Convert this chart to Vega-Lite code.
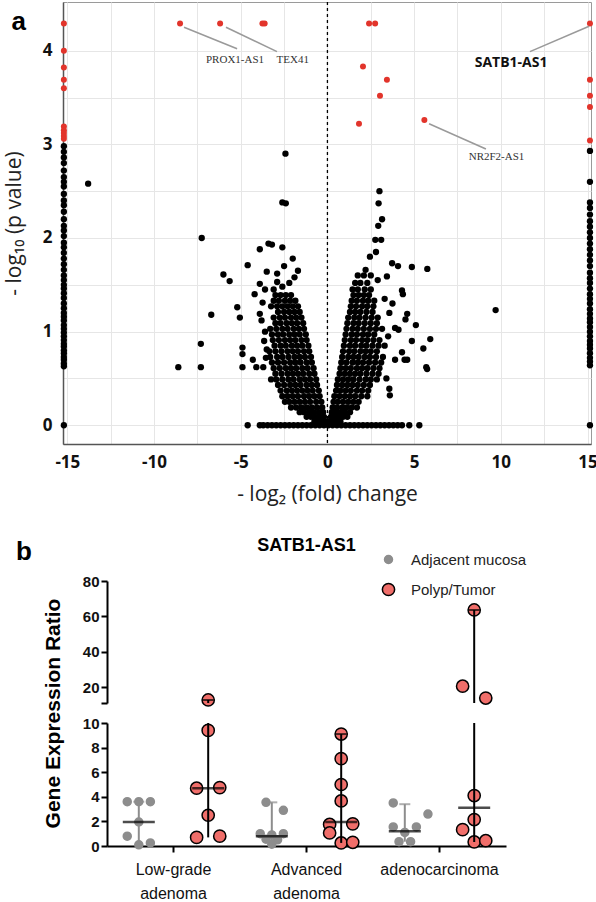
{
 "$schema": "https://vega.github.io/schema/vega-lite/v6.json",
 "background": "white",
 "padding": {"left": 2, "top": 0, "right": 0, "bottom": 0},
 "bounds": "flush",
 "spacing": 20,
 "resolve": {"scale": {"x": "independent", "y": "independent", "color": "independent", "stroke": "independent", "size": "independent", "xOffset": "independent"}},
 "config": {"view": {"stroke": null}, "font": "Liberation Sans", "axis": {"labelOverlap": false}},
 "datasets": {
  "black": [
   {"x":-15.2,"y":0},{"x":-4.6,"y":0},{"x":-3.9,"y":0},{"x":-3.7,"y":0},{"x":-3.45,"y":0},{"x":-3.2,"y":0},{"x":-2.95,"y":0},{"x":-2.7,"y":0},{"x":-2.45,"y":0},{"x":-2.2,"y":0},{"x":-1.95,"y":0},{"x":-1.7,"y":0},{"x":-1.45,"y":0},{"x":-1.2,"y":0},{"x":-0.95,"y":0},{"x":-0.7,"y":0},{"x":-0.45,"y":0},{"x":-0.2,"y":0},{"x":0.05,"y":0},{"x":0.3,"y":0},{"x":0.55,"y":0},{"x":0.8,"y":0},{"x":1.05,"y":0},{"x":1.3,"y":0},{"x":1.55,"y":0},{"x":1.8,"y":0},{"x":2.05,"y":0},{"x":2.3,"y":0},{"x":2.55,"y":0},{"x":2.8,"y":0},{"x":3.05,"y":0},{"x":3.3,"y":0},{"x":3.55,"y":0},{"x":3.8,"y":0},{"x":4.05,"y":0},{"x":4.3,"y":0},{"x":4.72,"y":0},{"x":5.3,"y":0},{"x":15.14,"y":0},
   {"x":-15.2,"y":0.63},{"x":-15.2,"y":0.66},{"x":-15.2,"y":0.7},{"x":-15.2,"y":0.73},{"x":-15.2,"y":0.77},{"x":-15.2,"y":0.8},{"x":-15.2,"y":0.84},{"x":-15.2,"y":0.87},{"x":-15.2,"y":0.91},{"x":-15.2,"y":0.95},{"x":-15.2,"y":0.99},{"x":-15.2,"y":1.03},{"x":-15.2,"y":1.07},{"x":-15.2,"y":1.12},{"x":-15.2,"y":1.16},{"x":-15.2,"y":1.2},{"x":-15.2,"y":1.25},{"x":-15.2,"y":1.3},{"x":-15.2,"y":1.36},{"x":-15.2,"y":1.41},{"x":-15.2,"y":1.46},{"x":-15.2,"y":1.5},{"x":-15.2,"y":1.55},{"x":-15.2,"y":1.6},{"x":-15.2,"y":1.66},{"x":-15.2,"y":1.72},{"x":-15.2,"y":1.78},{"x":-15.2,"y":1.84},{"x":-15.2,"y":1.9},{"x":-15.2,"y":1.95},{"x":-15.2,"y":2.02},{"x":-15.2,"y":2.08},{"x":-15.2,"y":2.13},{"x":-15.2,"y":2.2},{"x":-15.2,"y":2.28},{"x":-15.2,"y":2.35},{"x":-15.2,"y":2.4},{"x":-15.2,"y":2.47},{"x":-15.2,"y":2.55},{"x":-15.2,"y":2.6},{"x":-15.2,"y":2.65},{"x":-15.2,"y":2.72},{"x":-15.2,"y":2.8},{"x":-15.2,"y":2.86},{"x":-15.2,"y":2.92},{"x":-15.2,"y":2.98},
   {"x":15.14,"y":0.64},{"x":15.14,"y":0.68},{"x":15.14,"y":0.72},{"x":15.14,"y":0.77},{"x":15.14,"y":0.82},{"x":15.14,"y":0.86},{"x":15.14,"y":0.9},{"x":15.14,"y":0.95},{"x":15.14,"y":1.0},{"x":15.14,"y":1.05},{"x":15.14,"y":1.1},{"x":15.14,"y":1.14},{"x":15.14,"y":1.19},{"x":15.14,"y":1.24},{"x":15.14,"y":1.3},{"x":15.14,"y":1.35},{"x":15.14,"y":1.4},{"x":15.14,"y":1.46},{"x":15.14,"y":1.52},{"x":15.14,"y":1.57},{"x":15.14,"y":1.63},{"x":15.14,"y":1.7},{"x":15.14,"y":1.76},{"x":15.14,"y":1.82},{"x":15.14,"y":1.88},{"x":15.14,"y":1.94},{"x":15.14,"y":2.0},{"x":15.14,"y":2.06},{"x":15.14,"y":2.12},{"x":15.14,"y":2.18},{"x":15.14,"y":2.25},{"x":15.14,"y":2.32},{"x":15.14,"y":2.38},{"x":15.14,"y":2.6},{"x":15.14,"y":2.93},
   {"x":-0.1,"y":0.04},{"x":-0.3,"y":0.04},{"x":-0.5,"y":0.04},{"x":-0.75,"y":0.04},
   {"x":-0.2,"y":0.09},{"x":-0.45,"y":0.09},{"x":-0.7,"y":0.09},{"x":-0.95,"y":0.09},{"x":-1.2,"y":0.09},
   {"x":-0.25,"y":0.14},{"x":-0.5,"y":0.14},{"x":-0.8,"y":0.14},{"x":-1.05,"y":0.14},{"x":-1.35,"y":0.14},{"x":-1.6,"y":0.14},
   {"x":-0.3,"y":0.19},{"x":-0.6,"y":0.19},{"x":-0.9,"y":0.19},{"x":-1.2,"y":0.19},{"x":-1.5,"y":0.19},{"x":-1.8,"y":0.19},{"x":-2.1,"y":0.19},
   {"x":-0.35,"y":0.25},{"x":-0.65,"y":0.25},{"x":-1.0,"y":0.25},{"x":-1.3,"y":0.25},{"x":-1.6,"y":0.25},{"x":-1.9,"y":0.25},{"x":-2.2,"y":0.25},{"x":-2.45,"y":0.25},
   {"x":-0.45,"y":0.31},{"x":-0.75,"y":0.31},{"x":-1.05,"y":0.31},{"x":-1.35,"y":0.31},{"x":-1.7,"y":0.31},{"x":-2.0,"y":0.31},{"x":-2.3,"y":0.31},{"x":-2.6,"y":0.31},
   {"x":-0.5,"y":0.37},{"x":-0.85,"y":0.37},{"x":-1.15,"y":0.37},{"x":-1.45,"y":0.37},{"x":-1.75,"y":0.37},{"x":-2.05,"y":0.37},{"x":-2.35,"y":0.37},{"x":-2.7,"y":0.37},
   {"x":-0.6,"y":0.43},{"x":-0.9,"y":0.43},{"x":-1.2,"y":0.43},{"x":-1.55,"y":0.43},{"x":-1.85,"y":0.43},{"x":-2.15,"y":0.43},{"x":-2.5,"y":0.43},{"x":-2.85,"y":0.43},
   {"x":-0.65,"y":0.49},{"x":-1.0,"y":0.49},{"x":-1.3,"y":0.49},{"x":-1.6,"y":0.49},{"x":-1.95,"y":0.49},{"x":-2.25,"y":0.49},{"x":-2.6,"y":0.49},{"x":-2.95,"y":0.49},
   {"x":-0.75,"y":0.55},{"x":-1.05,"y":0.55},{"x":-1.4,"y":0.55},{"x":-1.7,"y":0.55},{"x":-2.0,"y":0.55},{"x":-2.3,"y":0.55},{"x":-2.65,"y":0.55},{"x":-3.0,"y":0.55},
   {"x":-0.8,"y":0.61},{"x":-1.15,"y":0.61},{"x":-1.45,"y":0.61},{"x":-1.8,"y":0.61},{"x":-2.1,"y":0.61},{"x":-2.4,"y":0.61},{"x":-2.75,"y":0.61},{"x":-3.1,"y":0.61},
   {"x":-0.9,"y":0.67},{"x":-1.2,"y":0.67},{"x":-1.55,"y":0.67},{"x":-1.85,"y":0.67},{"x":-2.15,"y":0.67},{"x":-2.5,"y":0.67},{"x":-2.85,"y":0.67},{"x":-3.2,"y":0.67},
   {"x":-0.95,"y":0.73},{"x":-1.3,"y":0.73},{"x":-1.6,"y":0.73},{"x":-1.9,"y":0.73},{"x":-2.25,"y":0.73},{"x":-2.6,"y":0.73},{"x":-2.9,"y":0.73},{"x":-3.3,"y":0.73},
   {"x":-1.05,"y":0.79},{"x":-1.35,"y":0.79},{"x":-1.7,"y":0.79},{"x":-2.0,"y":0.79},{"x":-2.3,"y":0.79},{"x":-2.65,"y":0.79},{"x":-3.0,"y":0.79},{"x":-3.35,"y":0.79},
   {"x":-1.1,"y":0.85},{"x":-1.45,"y":0.85},{"x":-1.75,"y":0.85},{"x":-2.05,"y":0.85},{"x":-2.4,"y":0.85},{"x":-2.7,"y":0.85},{"x":-3.05,"y":0.85},
   {"x":-1.2,"y":0.91},{"x":-1.5,"y":0.91},{"x":-1.85,"y":0.91},{"x":-2.15,"y":0.91},{"x":-2.45,"y":0.91},{"x":-2.8,"y":0.91},{"x":-3.15,"y":0.91},
   {"x":-1.25,"y":0.97},{"x":-1.6,"y":0.97},{"x":-1.9,"y":0.97},{"x":-2.2,"y":0.97},{"x":-2.55,"y":0.97},{"x":-2.85,"y":0.97},{"x":-3.2,"y":0.97},
   {"x":-1.35,"y":1.03},{"x":-1.65,"y":1.03},{"x":-1.95,"y":1.03},{"x":-2.3,"y":1.03},{"x":-2.6,"y":1.03},{"x":-2.95,"y":1.03},{"x":-3.3,"y":1.03},
   {"x":-1.4,"y":1.09},{"x":-1.75,"y":1.09},{"x":-2.05,"y":1.09},{"x":-2.35,"y":1.09},{"x":-2.7,"y":1.09},{"x":-3.0,"y":1.09},
   {"x":-1.5,"y":1.15},{"x":-1.8,"y":1.15},{"x":-2.1,"y":1.15},{"x":-2.45,"y":1.15},{"x":-2.75,"y":1.15},{"x":-3.1,"y":1.15},
   {"x":-1.6,"y":1.21},{"x":-1.9,"y":1.21},{"x":-2.2,"y":1.21},{"x":-2.5,"y":1.21},{"x":-2.85,"y":1.21},
   {"x":-1.7,"y":1.27},{"x":-2.0,"y":1.27},{"x":-2.3,"y":1.27},{"x":-2.6,"y":1.27},{"x":-2.9,"y":1.27},{"x":-3.25,"y":1.27},
   {"x":-1.85,"y":1.33},{"x":-2.15,"y":1.33},{"x":-2.45,"y":1.33},{"x":-2.8,"y":1.33},{"x":-3.1,"y":1.33},
   {"x":-2.1,"y":1.39},{"x":-2.4,"y":1.39},{"x":-2.7,"y":1.39},{"x":-3.0,"y":1.39},
   {"x":0.1,"y":0.04},{"x":0.3,"y":0.04},{"x":0.5,"y":0.04},{"x":0.75,"y":0.04},
   {"x":0.2,"y":0.09},{"x":0.4,"y":0.09},{"x":0.65,"y":0.09},{"x":0.9,"y":0.09},{"x":1.15,"y":0.09},
   {"x":0.25,"y":0.14},{"x":0.5,"y":0.14},{"x":0.75,"y":0.14},{"x":1.0,"y":0.14},{"x":1.3,"y":0.14},
   {"x":0.3,"y":0.19},{"x":0.55,"y":0.19},{"x":0.85,"y":0.19},{"x":1.1,"y":0.19},{"x":1.4,"y":0.19},{"x":1.7,"y":0.19},
   {"x":0.35,"y":0.25},{"x":0.6,"y":0.25},{"x":0.9,"y":0.25},{"x":1.2,"y":0.25},{"x":1.5,"y":0.25},{"x":1.8,"y":0.25},
   {"x":0.4,"y":0.31},{"x":0.7,"y":0.31},{"x":1.0,"y":0.31},{"x":1.3,"y":0.31},{"x":1.6,"y":0.31},{"x":1.95,"y":0.31},{"x":2.3,"y":0.31},
   {"x":0.5,"y":0.37},{"x":0.75,"y":0.37},{"x":1.05,"y":0.37},{"x":1.35,"y":0.37},{"x":1.7,"y":0.37},{"x":2.0,"y":0.37},{"x":2.35,"y":0.37},
   {"x":0.55,"y":0.43},{"x":0.85,"y":0.43},{"x":1.15,"y":0.43},{"x":1.45,"y":0.43},{"x":1.75,"y":0.43},{"x":2.1,"y":0.43},{"x":2.45,"y":0.43},
   {"x":0.6,"y":0.49},{"x":0.9,"y":0.49},{"x":1.2,"y":0.49},{"x":1.5,"y":0.49},{"x":1.85,"y":0.49},{"x":2.2,"y":0.49},{"x":2.5,"y":0.49},{"x":2.85,"y":0.49},
   {"x":0.7,"y":0.55},{"x":1.0,"y":0.55},{"x":1.3,"y":0.55},{"x":1.6,"y":0.55},{"x":1.9,"y":0.55},{"x":2.25,"y":0.55},{"x":2.6,"y":0.55},{"x":2.95,"y":0.55},
   {"x":0.75,"y":0.61},{"x":1.05,"y":0.61},{"x":1.35,"y":0.61},{"x":1.7,"y":0.61},{"x":2.0,"y":0.61},{"x":2.3,"y":0.61},{"x":2.65,"y":0.61},{"x":3.0,"y":0.61},
   {"x":0.8,"y":0.67},{"x":1.1,"y":0.67},{"x":1.45,"y":0.67},{"x":1.75,"y":0.67},{"x":2.05,"y":0.67},{"x":2.4,"y":0.67},{"x":2.75,"y":0.67},{"x":3.1,"y":0.67},
   {"x":0.85,"y":0.73},{"x":1.2,"y":0.73},{"x":1.5,"y":0.73},{"x":1.8,"y":0.73},{"x":2.15,"y":0.73},{"x":2.45,"y":0.73},{"x":2.8,"y":0.73},{"x":3.2,"y":0.73},
   {"x":0.9,"y":0.79},{"x":1.25,"y":0.79},{"x":1.55,"y":0.79},{"x":1.9,"y":0.79},{"x":2.2,"y":0.79},{"x":2.5,"y":0.79},{"x":2.85,"y":0.79},
   {"x":0.95,"y":0.85},{"x":1.3,"y":0.85},{"x":1.6,"y":0.85},{"x":1.95,"y":0.85},{"x":2.25,"y":0.85},{"x":2.6,"y":0.85},{"x":2.95,"y":0.85},{"x":3.3,"y":0.85},
   {"x":1.0,"y":0.91},{"x":1.35,"y":0.91},{"x":1.65,"y":0.91},{"x":2.0,"y":0.91},{"x":2.3,"y":0.91},{"x":2.65,"y":0.91},{"x":3.0,"y":0.91},
   {"x":1.05,"y":0.97},{"x":1.4,"y":0.97},{"x":1.7,"y":0.97},{"x":2.05,"y":0.97},{"x":2.35,"y":0.97},{"x":2.7,"y":0.97},
   {"x":1.1,"y":1.03},{"x":1.45,"y":1.03},{"x":1.75,"y":1.03},{"x":2.1,"y":1.03},{"x":2.45,"y":1.03},{"x":2.8,"y":1.03},{"x":3.15,"y":1.03},
   {"x":1.15,"y":1.09},{"x":1.5,"y":1.09},{"x":1.8,"y":1.09},{"x":2.15,"y":1.09},{"x":2.5,"y":1.09},{"x":2.85,"y":1.09},
   {"x":1.2,"y":1.15},{"x":1.55,"y":1.15},{"x":1.85,"y":1.15},{"x":2.2,"y":1.15},{"x":2.55,"y":1.15},{"x":2.9,"y":1.15},
   {"x":1.3,"y":1.21},{"x":1.6,"y":1.21},{"x":1.9,"y":1.21},{"x":2.25,"y":1.21},{"x":2.6,"y":1.21},
   {"x":1.35,"y":1.27},{"x":1.65,"y":1.27},{"x":2.0,"y":1.27},{"x":2.3,"y":1.27},{"x":2.65,"y":1.27},
   {"x":1.4,"y":1.33},{"x":1.7,"y":1.33},{"x":2.05,"y":1.33},{"x":2.35,"y":1.33},{"x":2.7,"y":1.33},
   {"x":1.5,"y":1.39},{"x":1.8,"y":1.39},{"x":2.1,"y":1.39},{"x":2.4,"y":1.39},
   {"x":1.45,"y":1.45},{"x":1.75,"y":1.45},{"x":2.15,"y":1.45},{"x":2.5,"y":1.45},
   {"x":1.6,"y":1.52},{"x":1.9,"y":1.52},{"x":2.3,"y":1.52},
   {"x":1.75,"y":1.6},{"x":2.1,"y":1.6},{"x":2.5,"y":1.6},
   {"x":-2.6,"y":1.48},{"x":-2.2,"y":1.52},{"x":-3.1,"y":1.45},{"x":-1.9,"y":1.58},{"x":-2.9,"y":1.62},{"x":-2.5,"y":1.7},{"x":-2.0,"y":1.78},{"x":-3.5,"y":1.64},{"x":-3.9,"y":1.51},{"x":-4.6,"y":1.71},{"x":-2.9,"y":1.53},{"x":-3.74,"y":1.31},{"x":-3.9,"y":1.19},{"x":-3.8,"y":1.12},{"x":-5.2,"y":1.26},{"x":-5.05,"y":1.15},{"x":-4.9,"y":0.83},{"x":-4.9,"y":0.76},{"x":-4.9,"y":0.62},{"x":-4.3,"y":0.7},{"x":-4.1,"y":0.62},{"x":-3.7,"y":0.62},{"x":-3.5,"y":0.81},{"x":-3.55,"y":0.72},{"x":-3.25,"y":0.49},{"x":-6.0,"y":1.61},{"x":-5.64,"y":1.54},{"x":-6.7,"y":1.18},{"x":-7.3,"y":0.87},{"x":-8.6,"y":0.62},{"x":-7.3,"y":0.62},{"x":-7.25,"y":2.0},{"x":-3.4,"y":1.94},{"x":-3.9,"y":1.88},{"x":-2.6,"y":1.9},{"x":-2.6,"y":2.38},{"x":-2.4,"y":2.37},{"x":-2.42,"y":2.9},{"x":-13.8,"y":2.58},{"x":-1.7,"y":1.65},{"x":-3.2,"y":1.93},{"x":-4.2,"y":1.4},{"x":-3.6,"y":1.45},{"x":-3.6,"y":1.0},{"x":-3.65,"y":0.9},
   {"x":2.2,"y":1.66},{"x":2.9,"y":1.55},{"x":3.43,"y":1.59},{"x":3.73,"y":1.73},{"x":4.07,"y":1.7},{"x":4.87,"y":1.69},{"x":5.76,"y":1.67},{"x":4.3,"y":1.44},{"x":4.35,"y":1.4},{"x":5.1,"y":1.07},{"x":5.93,"y":0.92},{"x":4.87,"y":0.9},{"x":5.53,"y":0.82},{"x":5.7,"y":0.62},{"x":5.75,"y":0.6},{"x":4.6,"y":1.19},{"x":4.5,"y":1.13},{"x":3.57,"y":0.39},{"x":3.6,"y":0.32},{"x":3.0,"y":2.5},{"x":2.95,"y":2.37},{"x":3.15,"y":2.2},{"x":2.93,"y":2.13},{"x":2.76,"y":1.98},{"x":3.1,"y":1.98},{"x":3.57,"y":1.2},{"x":3.75,"y":1.3},{"x":3.9,"y":1.04},{"x":4.1,"y":1.02},{"x":4.3,"y":0.78},{"x":4.45,"y":0.7},{"x":4.6,"y":0.7},{"x":3.9,"y":0.7},{"x":3.4,"y":0.5},{"x":2.8,"y":1.85},{"x":2.45,"y":1.8},{"x":3.3,"y":1.35},{"x":3.5,"y":0.95},{"x":9.7,"y":1.23}
  ],
  "red": [
   {"x":-8.5,"y":4.29},{"x":-6.19,"y":4.29},{"x":-3.75,"y":4.29},{"x":-3.62,"y":4.29},{"x":2.4,"y":4.29},{"x":2.75,"y":4.29},{"x":2.05,"y":3.83},{"x":3.43,"y":3.69},{"x":3.03,"y":3.52},{"x":1.82,"y":3.22},{"x":5.59,"y":3.26},
   {"x":-15.2,"y":4.29},{"x":-15.2,"y":4.0},{"x":-15.2,"y":3.82},{"x":-15.2,"y":3.69},{"x":-15.2,"y":3.6},{"x":-15.2,"y":3.19},{"x":-15.2,"y":3.15},{"x":-15.2,"y":3.12},{"x":-15.2,"y":3.09},{"x":-15.2,"y":3.06},
   {"x":15.14,"y":4.29},{"x":15.14,"y":3.69},{"x":15.14,"y":3.52},{"x":15.14,"y":3.4},{"x":15.14,"y":3.04}
  ],
  "pts": [
   {"group":"Low-grade adenoma","cond":"Adjacent mucosa","slot":"A-2","v":3.6},
   {"group":"Low-grade adenoma","cond":"Adjacent mucosa","slot":"A0","v":3.6},
   {"group":"Low-grade adenoma","cond":"Adjacent mucosa","slot":"A2","v":3.6},
   {"group":"Low-grade adenoma","cond":"Adjacent mucosa","slot":"A0","v":1.95},
   {"group":"Low-grade adenoma","cond":"Adjacent mucosa","slot":"A-2","v":0.8},
   {"group":"Low-grade adenoma","cond":"Adjacent mucosa","slot":"A0","v":0.1},
   {"group":"Low-grade adenoma","cond":"Adjacent mucosa","slot":"A2","v":0.25},
   {"group":"Low-grade adenoma","cond":"Polyp/Tumor","slot":"T0","v":12.7},
   {"group":"Low-grade adenoma","cond":"Polyp/Tumor","slot":"T0","v":9.4},
   {"group":"Low-grade adenoma","cond":"Polyp/Tumor","slot":"T-2","v":4.7},
   {"group":"Low-grade adenoma","cond":"Polyp/Tumor","slot":"T2","v":4.75},
   {"group":"Low-grade adenoma","cond":"Polyp/Tumor","slot":"T0","v":2.5},
   {"group":"Low-grade adenoma","cond":"Polyp/Tumor","slot":"T-2","v":0.7},
   {"group":"Low-grade adenoma","cond":"Polyp/Tumor","slot":"T2","v":0.8},
   {"group":"Advanced adenoma","cond":"Adjacent mucosa","slot":"A-1","v":3.55},
   {"group":"Advanced adenoma","cond":"Adjacent mucosa","slot":"A2","v":2.9},
   {"group":"Advanced adenoma","cond":"Adjacent mucosa","slot":"A-2","v":1.0},
   {"group":"Advanced adenoma","cond":"Adjacent mucosa","slot":"A2","v":1.0},
   {"group":"Advanced adenoma","cond":"Adjacent mucosa","slot":"A0","v":0.9},
   {"group":"Advanced adenoma","cond":"Adjacent mucosa","slot":"A-1","v":0.55},
   {"group":"Advanced adenoma","cond":"Adjacent mucosa","slot":"A1","v":0.5},
   {"group":"Advanced adenoma","cond":"Adjacent mucosa","slot":"A0","v":0.15},
   {"group":"Advanced adenoma","cond":"Polyp/Tumor","slot":"T0","v":9.1},
   {"group":"Advanced adenoma","cond":"Polyp/Tumor","slot":"T0","v":7.1},
   {"group":"Advanced adenoma","cond":"Polyp/Tumor","slot":"T0","v":5.0},
   {"group":"Advanced adenoma","cond":"Polyp/Tumor","slot":"T0","v":3.66},
   {"group":"Advanced adenoma","cond":"Polyp/Tumor","slot":"T-2","v":1.75},
   {"group":"Advanced adenoma","cond":"Polyp/Tumor","slot":"T2","v":1.8},
   {"group":"Advanced adenoma","cond":"Polyp/Tumor","slot":"T-2","v":1.06},
   {"group":"Advanced adenoma","cond":"Polyp/Tumor","slot":"T0","v":0.25},
   {"group":"Advanced adenoma","cond":"Polyp/Tumor","slot":"T2","v":0.3},
   {"group":"adenocarcinoma","cond":"Adjacent mucosa","slot":"A-2","v":3.5},
   {"group":"adenocarcinoma","cond":"Adjacent mucosa","slot":"A4","v":2.6},
   {"group":"adenocarcinoma","cond":"Adjacent mucosa","slot":"A-2","v":1.55},
   {"group":"adenocarcinoma","cond":"Adjacent mucosa","slot":"A2","v":1.55},
   {"group":"adenocarcinoma","cond":"Adjacent mucosa","slot":"A0","v":1.1},
   {"group":"adenocarcinoma","cond":"Adjacent mucosa","slot":"A-1","v":0.35},
   {"group":"adenocarcinoma","cond":"Adjacent mucosa","slot":"A1","v":0.35},
   {"group":"adenocarcinoma","cond":"Polyp/Tumor","slot":"T0","v":63.6},
   {"group":"adenocarcinoma","cond":"Polyp/Tumor","slot":"T-2","v":20.5},
   {"group":"adenocarcinoma","cond":"Polyp/Tumor","slot":"T2","v":13.8},
   {"group":"adenocarcinoma","cond":"Polyp/Tumor","slot":"T0","v":4.1},
   {"group":"adenocarcinoma","cond":"Polyp/Tumor","slot":"T0","v":2.15},
   {"group":"adenocarcinoma","cond":"Polyp/Tumor","slot":"T-2","v":1.33},
   {"group":"adenocarcinoma","cond":"Polyp/Tumor","slot":"T0","v":0.33},
   {"group":"adenocarcinoma","cond":"Polyp/Tumor","slot":"T2","v":0.43}
  ],
  "sum": [
   {"group":"Low-grade adenoma","cond":"Adjacent mucosa","slot":"A0","med":1.95,"lo":0.1,"hi":3.6},
   {"group":"Low-grade adenoma","cond":"Polyp/Tumor","slot":"T0","med":4.7,"lo":0.7,"hi":12.7},
   {"group":"Advanced adenoma","cond":"Adjacent mucosa","slot":"A0","med":0.8,"lo":0.15,"hi":3.55},
   {"group":"Advanced adenoma","cond":"Polyp/Tumor","slot":"T0","med":1.95,"lo":0.25,"hi":9.1},
   {"group":"adenocarcinoma","cond":"Adjacent mucosa","slot":"A0","med":1.2,"lo":0.35,"hi":3.4},
   {"group":"adenocarcinoma","cond":"Polyp/Tumor","slot":"T0","med":3.1,"lo":0.33,"hi":63.6}
  ]
 },
 "vconcat": [
  {
   "width": 528,
   "height": 442,
   "view": {"stroke": "#9a9a9a", "strokeWidth": 1},
   "layer": [
    {
     "data": {"values": [{"x": 0}]},
     "mark": {"type": "rule", "strokeDash": [3, 3], "color": "#000", "strokeWidth": 1.3},
     "encoding": {
      "x": {"field": "x", "type": "quantitative", "scale": {"domain": [-15.25, 15.2], "nice": false, "zero": false},
       "axis": {"values": [-15, -12.5, -10, -7.5, -5, -2.5, 0, 2.5, 5, 7.5, 10, 12.5, 15], "labelExpr": "datum.value % 5 === 0 ? '' + datum.value : ''", "labelOverlap": false, "labelFlush": false, "grid": true, "gridColor": "#e6e6e6", "ticks": false, "domainColor": "#555", "domainWidth": 1.5, "labelFont": "Open Sans", "labelFontWeight": "bold", "labelFontSize": 17, "labelColor": "#111", "labelPadding": 10, "title": "- log₂ (fold) change", "titleFont": "Open Sans", "titleFontWeight": "normal", "titleFontSize": 21, "titleColor": "#222", "titlePadding": 13}}
     }
    },
    {
     "data": {"name": "black"},
     "mark": {"type": "circle", "size": 40, "opacity": 1, "color": "#000"},
     "encoding": {
      "x": {"field": "x", "type": "quantitative"},
      "y": {"field": "y", "type": "quantitative", "scale": {"domain": [-0.2, 4.52], "nice": false, "zero": false},
       "axis": {"values": [0, 0.5, 1, 1.5, 2, 2.5, 3, 3.5, 4], "labelExpr": "datum.value % 1 === 0 ? '' + datum.value : ''", "labelOverlap": false, "labelFlush": false, "grid": true, "gridColor": "#e6e6e6", "ticks": false, "domainColor": "#555", "domainWidth": 1.5, "labelFont": "Open Sans", "labelFontWeight": "bold", "labelFontSize": 17, "labelColor": "#111", "labelPadding": 11, "title": "- log₁₀ (p value)", "titleFont": "Open Sans", "titleFontWeight": "normal", "titleFontSize": 21, "titleColor": "#222", "titlePadding": 18}}
     }
    },
    {
     "data": {"name": "red"},
     "mark": {"type": "circle", "size": 36, "opacity": 1, "color": "#e2342b"},
     "encoding": {"x": {"field": "x", "type": "quantitative"}, "y": {"field": "y", "type": "quantitative"}}
    },
    {
     "data": {"values": [
      {"x": -8.27, "y": 4.25, "x2": -5.21, "y2": 4.02},
      {"x": -5.85, "y": 4.25, "x2": -2.91, "y2": 3.99},
      {"x": 15.09, "y": 4.26, "x2": 11.68, "y2": 3.99},
      {"x": 5.86, "y": 3.22, "x2": 9.14, "y2": 2.95}
     ]},
     "mark": {"type": "rule", "color": "#9a9a9a", "strokeWidth": 1.6},
     "encoding": {"x": {"field": "x", "type": "quantitative"}, "y": {"field": "y", "type": "quantitative"}, "x2": {"field": "x2"}, "y2": {"field": "y2"}}
    },
    {
     "data": {"values": [
      {"x": -5.33, "y": 3.905, "t": "PROX1-AS1"},
      {"x": -2.0, "y": 3.905, "t": "TEX41"},
      {"x": 9.75, "y": 2.865, "t": "NR2F2-AS1"}
     ]},
     "mark": {"type": "text", "font": "Liberation Serif", "fontSize": 11, "color": "#333", "baseline": "middle"},
     "encoding": {"x": {"field": "x", "type": "quantitative"}, "y": {"field": "y", "type": "quantitative"}, "text": {"field": "t"}}
    },
    {
     "data": {"values": [{"x": 10.59, "y": 3.87, "t": "SATB1-AS1"}]},
     "mark": {"type": "text", "font": "Open Sans", "fontSize": 14, "fontWeight": "bold", "color": "#111", "baseline": "middle"},
     "encoding": {"x": {"field": "x", "type": "quantitative"}, "y": {"field": "y", "type": "quantitative"}, "text": {"field": "t"}}
    },
    {
     "data": {"values": [{"x": -17.8, "y": 4.31, "t": "a"}]},
     "mark": {"type": "text", "font": "Liberation Sans", "fontSize": 26, "fontWeight": "bold", "color": "#000", "baseline": "middle", "clip": false},
     "encoding": {"x": {"field": "x", "type": "quantitative"}, "y": {"field": "y", "type": "quantitative"}, "text": {"field": "t"}}
    }
   ]
  },
  {
   "width": 528,
   "height": 97,
   "data": {"values": []},
   "mark": "point",
   "title": {"text": "b", "orient": "bottom", "anchor": "start", "frame": "group", "dx": -47, "offset": -1, "fontSize": 26, "fontWeight": "bold", "font": "Liberation Sans", "color": "#000", "baseline": "alphabetic"}
  },
  {
   "width": 528,
   "height": 122,
   "layer": [
    {
     "data": {"name": "pts"},
     "transform": [{"filter": "datum.v >= 11"}],
     "mark": {"type": "point", "filled": true, "opacity": 1, "strokeWidth": 1.5},
     "encoding": {
      "x": {"field": "group", "type": "nominal", "scale": {"domain": ["Low-grade adenoma", "Advanced adenoma", "adenocarcinoma"], "range": [44, 443], "paddingInner": 0, "paddingOuter": 0}, "axis": null},
      "xOffset": {"field": "slot", "type": "nominal", "scale": {"domain": ["A-4","A-3","A-2","A-1","A0","A1","A2","A3","A4","s1","s2","s3","T-4","T-3","T-2","T-1","T0","T1","T2","T3","T4"], "paddingInner": 0, "paddingOuter": 5.46}},
      "y": {"field": "v", "type": "quantitative", "scale": {"domain": [11, 80], "nice": false, "zero": false},
       "axis": {"values": [11, 20, 40, 60, 80], "labelExpr": "datum.value === 11 ? '' : datum.label", "labelOverlap": false, "labelSeparation": 0, "offset": -44, "grid": false, "domainColor": "#000", "domainWidth": 2, "tickColor": "#000", "tickWidth": 2, "tickSize": 6, "labelFont": "Liberation Sans", "labelFontWeight": "bold", "labelFontSize": 15, "labelColor": "#111", "labelPadding": 2, "title": null}},
      "color": {"field": "cond", "type": "nominal", "scale": {"domain": ["Adjacent mucosa", "Polyp/Tumor"], "range": ["#8d8d8d", "#f06e6a"]},
       "legend": {"orient": "none", "legendX": 318, "legendY": -29, "title": null, "labelFont": "Liberation Sans", "labelFontSize": 15, "labelColor": "#222", "rowPadding": 12, "labelOffset": 15, "symbolStrokeWidth": 1.5, "symbolType": "circle", "padding": 0}},
      "stroke": {"field": "cond", "type": "nominal", "scale": {"domain": ["Adjacent mucosa", "Polyp/Tumor"], "range": ["#8d8d8d", "#000000"]},
       "legend": {"orient": "none", "legendX": 318, "legendY": -29, "title": null, "labelFont": "Liberation Sans", "labelFontSize": 15, "labelColor": "#222", "rowPadding": 12, "labelOffset": 15, "symbolStrokeWidth": 1.5, "symbolType": "circle", "padding": 0}},
      "size": {"field": "cond", "type": "nominal", "scale": {"domain": ["Adjacent mucosa", "Polyp/Tumor"], "range": [64, 150]},
       "legend": {"orient": "none", "legendX": 318, "legendY": -29, "title": null, "labelFont": "Liberation Sans", "labelFontSize": 15, "labelColor": "#222", "rowPadding": 12, "labelOffset": 15, "symbolStrokeWidth": 1.5, "symbolType": "circle", "padding": 0}}
     }
    },
    {
     "data": {"name": "sum"},
     "mark": {"type": "rule", "strokeWidth": 2, "clip": true},
     "encoding": {
      "x": {"field": "group", "type": "nominal"},
      "xOffset": {"field": "slot", "type": "nominal"},
      "y": {"field": "lo", "type": "quantitative", "axis": {"values": [11, 20, 40, 60, 80], "labelExpr": "datum.value === 11 ? '' : datum.label", "labelOverlap": false, "labelSeparation": 0, "offset": -44, "grid": false, "domainColor": "#000", "domainWidth": 2, "tickColor": "#000", "tickWidth": 2, "tickSize": 6, "labelFont": "Liberation Sans", "labelFontWeight": "bold", "labelFontSize": 15, "labelColor": "#111", "labelPadding": 2, "title": null}},
      "y2": {"field": "hi"},
      "color": {"condition": {"test": "datum.cond === 'Adjacent mucosa'", "value": "#8d8d8d"}, "value": "#000"}
     }
    },
    {
     "data": {"name": "sum"},
     "transform": [{"filter": "datum.hi >= 11"}],
     "mark": {"type": "tick", "thickness": 2, "size": 11},
     "encoding": {
      "x": {"field": "group", "type": "nominal"},
      "xOffset": {"field": "slot", "type": "nominal"},
      "y": {"field": "hi", "type": "quantitative", "axis": {"values": [11, 20, 40, 60, 80], "labelExpr": "datum.value === 11 ? '' : datum.label", "labelOverlap": false, "labelSeparation": 0, "offset": -44, "grid": false, "domainColor": "#000", "domainWidth": 2, "tickColor": "#000", "tickWidth": 2, "tickSize": 6, "labelFont": "Liberation Sans", "labelFontWeight": "bold", "labelFontSize": 15, "labelColor": "#111", "labelPadding": 2, "title": null}},
      "color": {"condition": {"test": "datum.cond === 'Adjacent mucosa'", "value": "#8d8d8d"}, "value": "#000"}
     }
    },
    {
     "data": {"values": [{"group": "Advanced adenoma", "v": 99.8, "t": "SATB1-AS1"}]},
     "mark": {"type": "text", "font": "Liberation Sans", "fontSize": 18, "fontWeight": "bold", "color": "#000", "baseline": "middle", "clip": false},
     "encoding": {"x": {"field": "group", "type": "nominal"}, "y": {"field": "v", "type": "quantitative", "axis": {"values": [11, 20, 40, 60, 80], "labelExpr": "datum.value === 11 ? '' : datum.label", "labelOverlap": false, "labelSeparation": 0, "offset": -44, "grid": false, "domainColor": "#000", "domainWidth": 2, "tickColor": "#000", "tickWidth": 2, "tickSize": 6, "labelFont": "Liberation Sans", "labelFontWeight": "bold", "labelFontSize": 15, "labelColor": "#111", "labelPadding": 2, "title": null}}, "text": {"field": "t"}}
    }
   ]
  },
  {
   "width": 528,
   "height": 123,
   "layer": [
    {
     "data": {"name": "pts"},
     "transform": [{"filter": "datum.v <= 10"}],
     "mark": {"type": "point", "filled": true, "opacity": 1, "strokeWidth": 1.5},
     "encoding": {
      "x": {"field": "group", "type": "nominal", "scale": {"domain": ["Low-grade adenoma", "Advanced adenoma", "adenocarcinoma"], "range": [44, 443], "paddingInner": 0, "paddingOuter": 0},
       "axis": {"labelExpr": "datum.value === 'adenocarcinoma' ? datum.value : split(datum.value, ' ')", "labelAngle": 0, "labelFont": "Liberation Sans", "labelFontSize": 16, "labelColor": "#111", "labelPadding": 9, "labelLineHeight": 24, "labelBaseline": "top", "domainColor": "#000", "domainWidth": 2, "tickColor": "#000", "tickWidth": 2, "tickSize": 6, "title": null}},
      "xOffset": {"field": "slot", "type": "nominal", "scale": {"domain": ["A-4","A-3","A-2","A-1","A0","A1","A2","A3","A4","s1","s2","s3","T-4","T-3","T-2","T-1","T0","T1","T2","T3","T4"], "paddingInner": 0, "paddingOuter": 5.46}},
      "y": {"field": "v", "type": "quantitative", "scale": {"domain": [0, 10], "nice": false},
       "axis": {"values": [0, 2, 4, 6, 8, 10], "labelOverlap": false, "labelSeparation": 0, "offset": -44, "grid": false, "domainColor": "#000", "domainWidth": 2, "tickColor": "#000", "tickWidth": 2, "tickSize": 6, "labelFont": "Liberation Sans", "labelFontWeight": "bold", "labelFontSize": 15, "labelColor": "#111", "labelPadding": 2, "title": "Gene Expression Ratio", "titleFont": "Liberation Sans", "titleFontWeight": "bold", "titleFontSize": 21, "titleColor": "#000", "titleY": -10, "titlePadding": 19}},
      "color": {"field": "cond", "type": "nominal", "scale": {"domain": ["Adjacent mucosa", "Polyp/Tumor"], "range": ["#8d8d8d", "#f06e6a"]}, "legend": null},
      "stroke": {"field": "cond", "type": "nominal", "scale": {"domain": ["Adjacent mucosa", "Polyp/Tumor"], "range": ["#8d8d8d", "#000000"]}, "legend": null},
      "size": {"field": "cond", "type": "nominal", "scale": {"domain": ["Adjacent mucosa", "Polyp/Tumor"], "range": [64, 150]}, "legend": null}
     }
    },
    {
     "data": {"name": "sum"},
     "mark": {"type": "rule", "strokeWidth": 2, "clip": true},
     "encoding": {
      "x": {"field": "group", "type": "nominal"},
      "xOffset": {"field": "slot", "type": "nominal"},
      "y": {"field": "lo", "type": "quantitative", "axis": {"values": [0, 2, 4, 6, 8, 10], "labelOverlap": false, "labelSeparation": 0, "offset": -44, "grid": false, "domainColor": "#000", "domainWidth": 2, "tickColor": "#000", "tickWidth": 2, "tickSize": 6, "labelFont": "Liberation Sans", "labelFontWeight": "bold", "labelFontSize": 15, "labelColor": "#111", "labelPadding": 2, "title": "Gene Expression Ratio", "titleFont": "Liberation Sans", "titleFontWeight": "bold", "titleFontSize": 21, "titleColor": "#000", "titleY": -10, "titlePadding": 19}},
      "y2": {"field": "hi"},
      "color": {"condition": {"test": "datum.cond === 'Adjacent mucosa'", "value": "#8d8d8d"}, "value": "#000"}
     }
    },
    {
     "data": {"name": "sum"},
     "transform": [{"filter": "datum.hi <= 10"}],
     "mark": {"type": "tick", "thickness": 2, "size": 11},
     "encoding": {
      "x": {"field": "group", "type": "nominal"},
      "xOffset": {"field": "slot", "type": "nominal"},
      "y": {"field": "hi", "type": "quantitative", "axis": {"values": [0, 2, 4, 6, 8, 10], "labelOverlap": false, "labelSeparation": 0, "offset": -44, "grid": false, "domainColor": "#000", "domainWidth": 2, "tickColor": "#000", "tickWidth": 2, "tickSize": 6, "labelFont": "Liberation Sans", "labelFontWeight": "bold", "labelFontSize": 15, "labelColor": "#111", "labelPadding": 2, "title": "Gene Expression Ratio", "titleFont": "Liberation Sans", "titleFontWeight": "bold", "titleFontSize": 21, "titleColor": "#000", "titleY": -10, "titlePadding": 19}},
      "color": {"condition": {"test": "datum.cond === 'Adjacent mucosa'", "value": "#8d8d8d"}, "value": "#000"}
     }
    },
    {
     "data": {"name": "sum"},
     "mark": {"type": "tick", "thickness": 2.5, "size": 32, "color": "#000"},
     "encoding": {
      "x": {"field": "group", "type": "nominal"},
      "xOffset": {"field": "slot", "type": "nominal"},
      "y": {"field": "med", "type": "quantitative", "axis": {"values": [0, 2, 4, 6, 8, 10], "labelOverlap": false, "labelSeparation": 0, "offset": -44, "grid": false, "domainColor": "#000", "domainWidth": 2, "tickColor": "#000", "tickWidth": 2, "tickSize": 6, "labelFont": "Liberation Sans", "labelFontWeight": "bold", "labelFontSize": 15, "labelColor": "#111", "labelPadding": 2, "title": "Gene Expression Ratio", "titleFont": "Liberation Sans", "titleFontWeight": "bold", "titleFontSize": 21, "titleColor": "#000", "titleY": -10, "titlePadding": 19}}
     }
    }
   ]
  }
 ]
}
